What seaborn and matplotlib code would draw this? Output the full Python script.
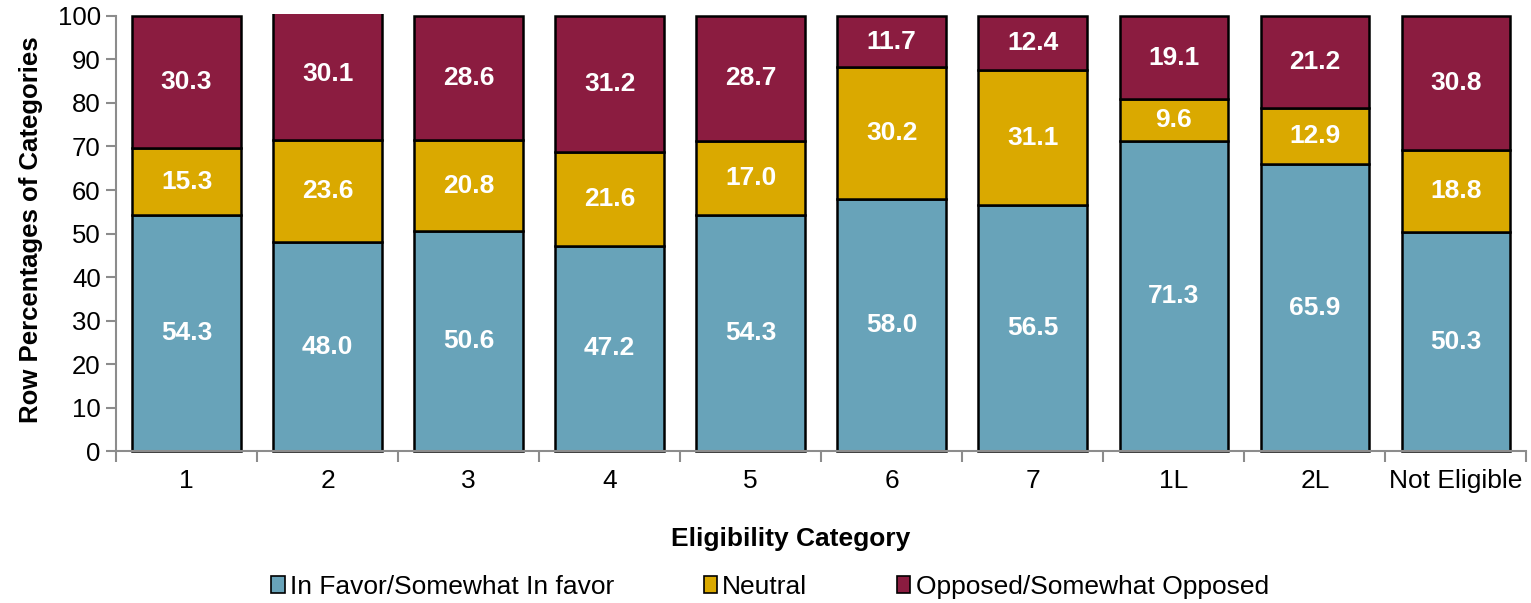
import numpy as np
import matplotlib
matplotlib.use("Agg")
import matplotlib.pyplot as plt
import seaborn as sns
from matplotlib.patches import Patch
from matplotlib.transforms import Bbox, TransformedBbox

categories = ["1", "2", "3", "4", "5", "6", "7", "1L", "2L", "Not Eligible"]
in_favor = [54.3, 48.0, 50.6, 47.2, 54.3, 58.0, 56.5, 71.3, 65.9, 50.3]
neutral = [15.3, 23.6, 20.8, 21.6, 17.0, 30.2, 31.1, 9.6, 12.9, 18.8]
opposed = [30.3, 30.1, 28.6, 31.2, 28.7, 11.7, 12.4, 19.1, 21.2, 30.8]
series_names = ["In Favor/Somewhat In favor", "Neutral", "Opposed/Somewhat Opposed"]
colors = ["#68A3B9", "#DAA900", "#8B1C40"]

sns.set_style("white")
plt.rcParams["font.family"] = ["Liberation Sans", "DejaVu Sans"]
plt.rcParams["text.color"] = "black"
plt.rcParams["xtick.color"] = "black"
plt.rcParams["ytick.color"] = "black"
plt.rcParams["axes.labelcolor"] = "black"

fig = plt.figure(figsize=(15.31, 6.03), dpi=100)
ax = fig.add_axes([0.0758, 0.252, 0.9212, 0.7215])

bottom = np.zeros(len(categories))
for vals, col in zip([in_favor, neutral, opposed], colors):
    sns.barplot(x=categories, y=vals, bottom=bottom, color=col, width=0.77,
                edgecolor="black", linewidth=1.8, saturation=1, ax=ax, zorder=2)
    vals = np.array(vals)
    # value labels in the middle of each segment
    for i, v in enumerate(vals):
        ax.text(i, bottom[i] + v / 2, f"{v:.1f}", ha="center", va="center",
                color="white", fontsize=19, fontweight="bold", zorder=3)
    bottom = bottom + vals

# clip bars at 100 but keep the top edge line fully visible
clip = TransformedBbox(Bbox([[0, -0.01], [1, 1.004]]), ax.transAxes)
for p in ax.patches:
    p.set_clip_box(clip)

ax.set_xlim(-0.5, len(categories) - 0.5)
ax.set_ylim(0, 100)
ax.set_yticks(np.arange(0, 101, 10))
ax.set_xticks(np.arange(-0.5, len(categories), 1.0), minor=True)

for s in ["top", "right"]:
    ax.spines[s].set_visible(False)
for s in ["left", "bottom"]:
    ax.spines[s].set_color("#8c8c8c")
    ax.spines[s].set_linewidth(1.5)

ax.tick_params(axis="y", which="major", direction="out", length=7, width=1.5,
               color="#8c8c8c", labelcolor="black", labelsize=18.5, pad=4, left=True)
ax.tick_params(axis="x", which="major", length=0, labelsize=19, labelcolor="black", pad=13)
ax.tick_params(axis="x", which="minor", direction="out", length=8, width=1.5,
               color="#8c8c8c", bottom=True)

ax.set_xlabel("Eligibility Category", fontsize=19, fontweight="bold")
ax.xaxis.set_label_coords(0.478, -0.175)
ax.set_ylabel("Row Percentages of Categories", fontsize=18.5, fontweight="bold")
ax.yaxis.set_label_coords(-0.052, 0.508)

handles = [Patch(facecolor=c, edgecolor="black", linewidth=1.2) for c in colors]
fig.legend(handles, series_names, loc="center", bbox_to_anchor=(0.503, 0.027),
           ncol=3, frameon=False, fontsize=19, handlelength=0.5, handleheight=0.65,
           handletextpad=0.2, columnspacing=3.4)

fig.savefig("out.png", dpi=100)
